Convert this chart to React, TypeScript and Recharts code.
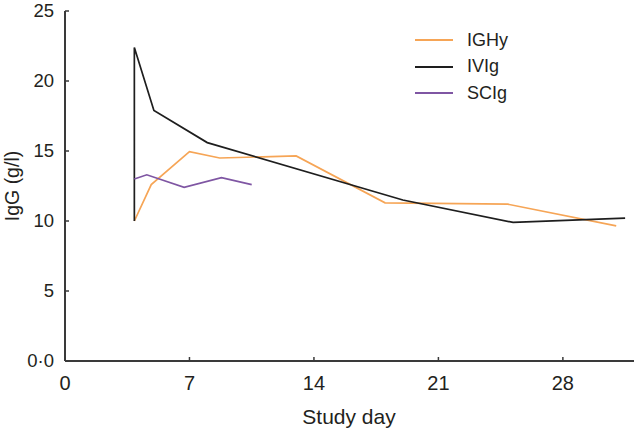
import { LineChart, Line, XAxis, YAxis, Legend } from 'recharts';

// study day / IgG (g/l)
const ighyDays = [3.9, 4.85, 7.0, 8.7, 13.0, 18.0, 24.9, 31.0];
const ighyValues = [10.0, 12.6, 14.95, 14.5, 14.65, 11.3, 11.2, 9.65];

const ivigDays = [3.9, 3.9, 5.0, 8.0, 19.0, 25.2, 31.5];
const ivigValues = [10.0, 22.4, 17.9, 15.6, 11.5, 9.9, 10.2];

const scigDays = [3.9, 4.6, 6.7, 8.8, 10.5];
const scigValues = [13.0, 13.3, 12.4, 13.1, 12.6];

const xTicks = [0, 7, 14, 21, 28];
const yTicks = [0, 5, 10, 15, 20, 25];

const toPoints = (days: number[], values: number[]) =>
  days.map((day, i) => ({ day, igg: values[i] }));

const axisColor = '#3a3a3a';
const textColor = '#231f20';
const font = '"Liberation Sans", Arial, sans-serif';

function YTick(props: any) {
  const { x, y, payload } = props;
  const label = payload.value === 0 ? '0·0' : String(payload.value);
  return (
    <g>
      <line x1={x + 11} x2={x + 15} y1={y} y2={y} stroke={axisColor} strokeWidth={1.5} />
      <text x={x} y={y} dy={6} textAnchor="end" fontSize={18.5} fill={textColor} fontFamily={font}>
        {label}
      </text>
    </g>
  );
}

function XTick(props: any) {
  const { x, y, payload } = props;
  return (
    <g>
      <line x1={x} x2={x} y1={y} y2={y - 4} stroke={axisColor} strokeWidth={1.5} />
      <text x={x} y={y} dy={29} textAnchor="middle" fontSize={20} fill={textColor} fontFamily={font}>
        {payload.value}
      </text>
    </g>
  );
}

function LegendBox(props: any) {
  const { payload } = props;
  return (
    <div style={{ fontFamily: font, fontSize: 18, color: textColor }}>
      {payload.map((entry: any) => (
        <div key={entry.value} style={{ display: 'flex', alignItems: 'center', height: 26.5 }}>
          <svg width={38} height={4} style={{ marginRight: 14 }}>
            <line x1={0} x2={38} y1={2} y2={2} stroke={entry.color} strokeWidth={2} />
          </svg>
          <span>{entry.value}</span>
        </div>
      ))}
    </div>
  );
}

export default function App() {
  return (
    <div style={{ position: 'absolute', left: 0, top: 0, background: '#fff' }}>
      <LineChart width={634} height={430} margin={{ top: 11, right: 0, bottom: 0, left: 0 }}>
        <XAxis
          dataKey="day"
          type="number"
          domain={[0, 32]}
          ticks={xTicks}
          allowDataOverflow
          height={69}
          stroke={axisColor}
          strokeWidth={2}
          tickSize={0}
          tickMargin={0}
          tick={<XTick />}
          label={{
            content: () => (
              <text x={349} y={424} textAnchor="middle" fontSize={21} fill={textColor} fontFamily={font}>
                Study day
              </text>
            ),
          }}
        />
        <YAxis
          type="number"
          domain={[0, 25]}
          ticks={yTicks}
          width={65}
          stroke={axisColor}
          strokeWidth={2}
          tickSize={0}
          tickMargin={11}
          tick={<YTick />}
          label={{
            content: () => (
              <text
                x={19}
                y={186}
                transform="rotate(-90 19 186)"
                textAnchor="middle"
                fontSize={19.5}
                fill={textColor}
                fontFamily={font}
              >
                IgG (g/l)
              </text>
            ),
          }}
        />
        <Legend
          layout="horizontal"
          verticalAlign="middle"
          align="center"
          content={<LegendBox />}
          wrapperStyle={{ position: 'absolute', top: 27, left: 415, width: 'auto' }}
        />
        <Line
          data={toPoints(ighyDays, ighyValues)}
          dataKey="igg"
          name="IGHy"
          type="linear"
          stroke="#f6a556"
          strokeWidth={1.7}
          dot={false}
          isAnimationActive={false}
        />
        <Line
          data={toPoints(ivigDays, ivigValues)}
          dataKey="igg"
          name="IVIg"
          type="linear"
          stroke="#1e1e1e"
          strokeWidth={1.7}
          dot={false}
          isAnimationActive={false}
        />
        <Line
          data={toPoints(scigDays, scigValues)}
          dataKey="igg"
          name="SCIg"
          type="linear"
          stroke="#7f56a3"
          strokeWidth={1.7}
          dot={false}
          isAnimationActive={false}
        />
      </LineChart>
    </div>
  );
}
